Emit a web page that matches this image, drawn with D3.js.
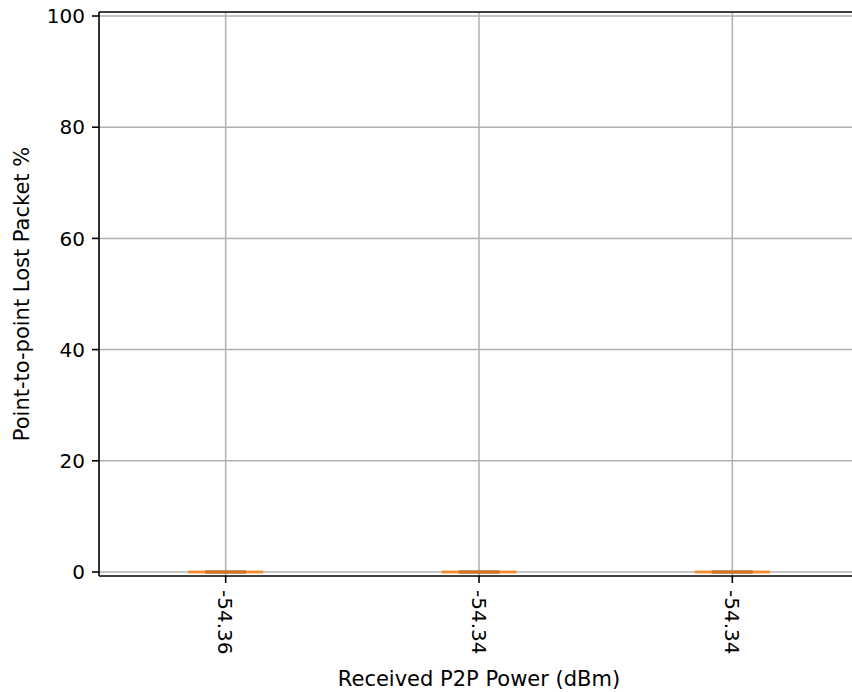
<!DOCTYPE html>
<html lang="en">
  <head>
    <meta charset="utf-8" />
    <script src="https://d3js.org/d3.v7.min.js"></script>
    <style>
      body { margin: 0; background: white; }
      text { font-family: "DejaVu Sans", sans-serif; fill: #000; }
    </style>
  </head>
  <body>
    <svg id="BoxVis" width="852" height="692"></svg>
    <script>
      // data
      const powerLabels = ["-54.36", "-54.34", "-54.34"];
      const positions = [1, 2, 3];
      const whiskerLow = [0, 0, 0];
      const q1 = [0, 0, 0];
      const medians = [0, 0, 0];
      const q3 = [0, 0, 0];
      const whiskerHigh = [0, 0, 0];
      const yTicks = [0, 20, 40, 60, 80, 100];

      const svg = d3.select("svg#BoxVis");
      const margin = {top: 12, left: 99, bottom: 576, right: 859};

      const xScale = d3.scaleLinear().domain([0.5, 3.5]).range([margin.left, margin.right]);
      const yScale = d3.scaleLinear().domain([-0.72, 100.72]).range([margin.bottom, margin.top]);

      svg.append("clipPath").attr("id", "plotclip")
        .append("rect")
        .attr("x", margin.left).attr("y", margin.top)
        .attr("width", margin.right - margin.left).attr("height", margin.bottom - margin.top);

      // gridlines
      let grid = svg.append("g").attr("clip-path", "url(#plotclip)");
      grid.selectAll("line.vgrid").data(positions).join("line")
        .attr("class", "vgrid")
        .attr("x1", d => xScale(d)).attr("x2", d => xScale(d))
        .attr("y1", margin.top).attr("y2", margin.bottom)
        .attr("stroke", "#b0b0b0").attr("stroke-width", 1.5);
      grid.selectAll("line.hgrid").data(yTicks).join("line")
        .attr("class", "hgrid")
        .attr("x1", margin.left).attr("x2", margin.right)
        .attr("y1", d => yScale(d)).attr("y2", d => yScale(d))
        .attr("stroke", "#b0b0b0").attr("stroke-width", 1.5);

      // boxes
      const boxData = positions.map((p, i) => ({
        pos: p, lo: whiskerLow[i], q1: q1[i], med: medians[i], q3: q3[i], hi: whiskerHigh[i]
      }));
      const boxHalf = 0.148;
      const capHalf = 0.081;
      let boxes = svg.append("g").attr("clip-path", "url(#plotclip)");
      boxes.selectAll("line.whisker").data(boxData).join("line")
        .attr("class", "whisker")
        .attr("x1", d => xScale(d.pos)).attr("x2", d => xScale(d.pos))
        .attr("y1", d => yScale(d.lo)).attr("y2", d => yScale(d.hi))
        .attr("stroke", "#444").attr("stroke-width", 2);
      boxes.selectAll("line.cap").data(boxData).join("line")
        .attr("class", "cap")
        .attr("x1", d => xScale(d.pos - capHalf)).attr("x2", d => xScale(d.pos + capHalf))
        .attr("y1", d => yScale(d.lo)).attr("y2", d => yScale(d.lo))
        .attr("stroke", "#444").attr("stroke-width", 3);
      boxes.selectAll("line.median").data(boxData).join("line")
        .attr("class", "median")
        .attr("x1", d => xScale(d.pos - boxHalf)).attr("x2", d => xScale(d.pos + boxHalf))
        .attr("y1", d => yScale(d.med)).attr("y2", d => yScale(d.med))
        .attr("stroke", "#ff7f0e").attr("stroke-width", 3).attr("stroke-opacity", 0.8);

      // spines (right one falls outside the picture)
      let spines = svg.append("g");
      spines.append("line").attr("x1", margin.left).attr("x2", margin.left)
        .attr("y1", margin.top).attr("y2", margin.bottom)
        .attr("stroke", "#000").attr("stroke-width", 1.6);
      spines.append("line").attr("x1", margin.left).attr("x2", margin.right)
        .attr("y1", margin.top).attr("y2", margin.top)
        .attr("stroke", "#000").attr("stroke-width", 1.6);
      spines.append("line").attr("x1", margin.left).attr("x2", margin.right)
        .attr("y1", margin.bottom).attr("y2", margin.bottom)
        .attr("stroke", "#000").attr("stroke-width", 1.6);

      // y axis ticks
      let yAxis = svg.append("g");
      yAxis.selectAll("line").data(yTicks).join("line")
        .attr("x1", margin.left - 7).attr("x2", margin.left)
        .attr("y1", d => yScale(d)).attr("y2", d => yScale(d))
        .attr("stroke", "#000").attr("stroke-width", 1.6);
      yAxis.selectAll("text").data(yTicks).join("text")
        .attr("x", margin.left - 14)
        .attr("y", d => yScale(d))
        .attr("dy", "0.36em")
        .attr("text-anchor", "end")
        .style("font-size", "20px")
        .text(d => d);

      // x axis ticks
      let xAxis = svg.append("g");
      xAxis.selectAll("line").data(positions).join("line")
        .attr("x1", d => xScale(d)).attr("x2", d => xScale(d))
        .attr("y1", margin.bottom).attr("y2", margin.bottom + 7)
        .attr("stroke", "#000").attr("stroke-width", 1.6);
      xAxis.selectAll("text").data(positions).join("text")
        .attr("transform", d => "translate(" + xScale(d) + "," + (margin.bottom + 14) + ") rotate(90)")
        .attr("dy", "0.36em")
        .attr("text-anchor", "start")
        .style("font-size", "20px")
        .text((d, i) => powerLabels[i]);

      // axis labels
      svg.append("text")
        .attr("x", (margin.left + margin.right) / 2)
        .attr("y", 686)
        .attr("text-anchor", "middle")
        .style("font-size", "21px")
        .text("Received P2P Power (dBm)");
      svg.append("text")
        .attr("transform", "translate(29," + ((margin.top + margin.bottom) / 2) + ") rotate(-90)")
        .attr("text-anchor", "middle")
        .style("font-size", "21px")
        .text("Point-to-point Lost Packet %");
    </script>
  </body>
</html>
